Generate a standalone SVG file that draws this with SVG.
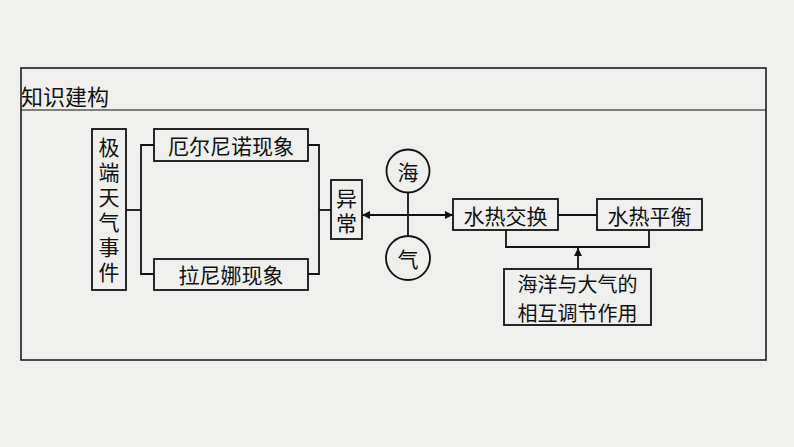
<svg xmlns="http://www.w3.org/2000/svg" width="794" height="447" viewBox="0 0 794 447">
<defs>
<marker id="arr" viewBox="0 0 10 10" refX="10" refY="5" markerWidth="9" markerHeight="8" markerUnits="userSpaceOnUse" orient="auto-start-reverse">
<path d="M0,0 L10,5 L0,10 z" fill="#111"/>
</marker>
</defs>
<style>
.bx{fill:none;stroke:#111;stroke-width:1.8}
.ln{fill:none;stroke:#111;stroke-width:1.8}
.t{font-family:"Noto Sans CJK SC","Noto Sans CJK TC",sans-serif;font-size:21px;fill:#111;text-anchor:middle;dominant-baseline:central}
.v{font-family:"Noto Sans CJK SC","Noto Sans CJK TC",sans-serif;font-size:21px;fill:#111;writing-mode:vertical-rl;letter-spacing:4px}
</style>
<rect x="0" y="0" width="794" height="447" fill="#efefed"/>
<g id="frame">
<rect x="21" y="68" width="745" height="292" fill="none" stroke="#111" stroke-width="1.5"/>
<line x1="21" y1="110" x2="766" y2="110" stroke="#111" stroke-width="1.2"/>
<text x="21" y="95" font-family="'Noto Sans CJK SC',sans-serif" font-size="22" fill="#111" dominant-baseline="central">知识建构</text>
</g>
<g id="connectors">
<polyline class="ln" points="126,210 141,210"/>
<polyline class="ln" points="154,145 141,145 141,274 154,274"/>
<polyline class="ln" points="308,145 319,145 319,274 308,274"/>
<polyline class="ln" points="319,210 331,210"/>
<line class="ln" x1="408" y1="192.5" x2="408" y2="236"/>
<line class="ln" x1="362" y1="215" x2="453" y2="215" marker-start="url(#arr)" marker-end="url(#arr)"/>
<line class="ln" x1="558" y1="215" x2="597" y2="215"/>
<polyline class="ln" points="506,230 506,247 649,247 649,230"/>
<line class="ln" x1="578" y1="269" x2="578" y2="248" marker-end="url(#arr)"/>
</g>
<g id="n-jiduan">
<rect class="bx" x="92" y="129" width="34" height="161"/>
<text class="v" x="109" y="136.5">极端天气事件</text>
</g>
<g id="n-elnino">
<rect class="bx" x="154" y="129" width="154" height="32"/>
<text class="t" x="231" y="145">厄尔尼诺现象</text>
</g>
<g id="n-lanina">
<rect class="bx" x="154" y="259" width="154" height="31"/>
<text class="t" x="231" y="274">拉尼娜现象</text>
</g>
<g id="n-yichang">
<rect class="bx" x="331" y="180" width="31" height="59"/>
<text class="v" x="346.5" y="187.5">异常</text>
</g>
<g id="n-hai">
<circle class="bx" cx="408" cy="171" r="21.5"/>
<text class="t" x="408" y="171">海</text>
</g>
<g id="n-qi">
<circle class="bx" cx="408" cy="258" r="22"/>
<text class="t" x="408" y="258">气</text>
</g>
<g id="n-shuirejiaohuan">
<rect class="bx" x="453" y="199" width="105" height="31"/>
<text class="t" x="505.5" y="214.5">水热交换</text>
</g>
<g id="n-shuirepingheng">
<rect class="bx" x="597" y="199" width="105" height="31"/>
<text class="t" x="649.5" y="214.5">水热平衡</text>
</g>
<g id="n-tiaojie">
<rect class="bx" x="504" y="269" width="147" height="56"/>
<text class="t" style="font-size:20px"><tspan x="577.5" y="283">海洋与大气的</tspan><tspan x="577.5" y="312">相互调节作用</tspan></text>
</g>
</svg>
